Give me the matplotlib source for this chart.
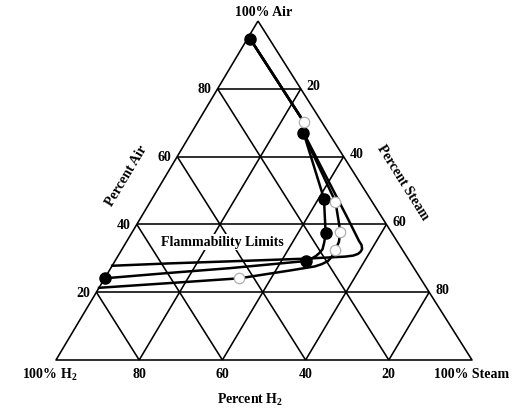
import matplotlib
matplotlib.use('Agg')
import matplotlib.pyplot as plt

plt.rcParams['font.family'] = ['Liberation Serif', 'DejaVu Serif']
plt.rcParams['font.weight'] = 'bold'
plt.rcParams['mathtext.fontset'] = 'custom'
plt.rcParams['mathtext.rm'] = 'Liberation Serif:bold'
plt.rcParams['mathtext.default'] = 'rm'

# ---------------- data (percent H2, percent Air; steam = 100 - H2 - Air) ----
tick_values = [20, 40, 60, 80]

outer_h2 = [4.6, 4.3, 6.0, 8.4, 9.1, 9.1, 9.6, 10.4, 11.3, 12.7, 14.8, 24.5, 43.2, 58.0, 72.2]
outer_air = [94.7, 70.1, 67.1, 41.6, 35.1, 33.9, 32.7, 31.9, 31.3, 30.8, 30.5, 29.9, 29.1, 28.5, 27.8]

filled_curve_h2 = [4.6, 4.3, 6.0, 11.1, 15.9, 17.6, 19.1, 20.4, 21.7, 23.4, 24.9, 34.1, 44.2, 59.4, 75.9]
filled_curve_air = [94.7, 70.1, 67.1, 47.6, 37.5, 34.8, 32.7, 31.6, 30.7, 29.8, 29.2, 28.2, 27.1, 25.7, 24.1]

open_curve_h2 = [4.6, 4.3, 6.4, 8.8, 12.2, 14.1, 16.2, 18.0, 19.6, 21.5, 23.6, 30.2, 43.5, 60.9, 78.7]
open_curve_air = [94.7, 70.1, 65.2, 46.7, 37.8, 34.8, 32.4, 30.5, 29.2, 28.3, 27.6, 26.4, 24.1, 22.7, 21.3]

filled_pts_h2 = [4.6, 6.0, 11.1, 15.9, 24.9, 75.9]
filled_pts_air = [94.7, 67.1, 47.6, 37.5, 29.2, 24.1]

open_pts_h2 = [4.3, 8.8, 12.2, 16.2, 43.5]
open_pts_air = [70.1, 46.7, 37.8, 32.4, 24.1]

# ---------------- layout (figure pixel frame) ------------------------------
V_AIR = (258.0, 22.0)
V_H2 = (56.0, 361.0)
V_STEAM = (472.0, 361.0)


def to_xy(h2, air):
    h = [v / 100.0 for v in h2]
    a = [v / 100.0 for v in air]
    s = [1 - hh - aa for hh, aa in zip(h, a)]
    xs = [aa * V_AIR[0] + hh * V_H2[0] + ss * V_STEAM[0] for hh, aa, ss in zip(h, a, s)]
    ys = [aa * V_AIR[1] + hh * V_H2[1] + ss * V_STEAM[1] for hh, aa, ss in zip(h, a, s)]
    return xs, ys


fig = plt.figure(figsize=(5.2, 4.1), dpi=100)
ax = fig.add_axes([0, 0, 1, 1])
ax.set_xlim(0, 520)
ax.set_ylim(410, 0)
ax.axis('off')

GL = dict(color='black', lw=1.15, zorder=1, solid_capstyle='butt')

# triangle border
bx, by = to_xy([0, 100, 0, 0], [100, 0, 0, 100])
ax.plot(bx, by, **GL)

# grid lines
for v in tick_values:
    x, y = to_xy([100 - v, 0], [v, v]); ax.plot(x, y, **GL)      # constant air
    x, y = to_xy([v, v], [100 - v, 0]); ax.plot(x, y, **GL)      # constant H2
    x, y = to_xy([0, 100 - v], [100 - v, 0]); ax.plot(x, y, **GL)  # constant steam

# curves
CL = dict(color='black', lw=1.8, zorder=3, solid_joinstyle='round')
x, y = to_xy(outer_h2, outer_air); ax.plot(x, y, **CL)
x, y = to_xy(filled_curve_h2, filled_curve_air); ax.plot(x, y, **CL)
x, y = to_xy(open_curve_h2, open_curve_air); ax.plot(x, y, **CL)

x, y = to_xy(filled_pts_h2, filled_pts_air)
ax.plot(x, y, 'o', ms=8, mfc='black', mec='black', zorder=5)
x, y = to_xy(open_pts_h2, open_pts_air)
ax.plot(x, y, 'o', ms=7.5, mfc='white', mec='#b0b0b0', mew=0.9, zorder=5)

# ---------------- text ---------------------------------------------------
FS = 10
ax.text(V_AIR[0] + 6, V_AIR[1] - 10, '100% Air', ha='center', va='center', fontsize=FS)

for v in tick_values:
    x, y = to_xy([100 - v], [v])          # left edge: percent air
    ax.text(x[0] - 6, y[0], str(v), ha='right', va='center', fontsize=FS)
    x, y = to_xy([0], [100 - v])          # right edge: percent steam
    ax.text(x[0] + 6, y[0] - 3, str(v), ha='left', va='center', fontsize=FS)
    x, y = to_xy([v], [0])                # bottom: percent H2
    ax.text(x[0], y[0] + 14, str(v), ha='center', va='center', fontsize=FS)

ax.text(V_H2[0] - 6, V_H2[1] + 14, '100% H$_2$', ha='center', va='center', fontsize=FS)
ax.text(V_STEAM[0], V_STEAM[1] + 14, '100% Steam', ha='center', va='center', fontsize=FS)
ax.text(250, 400, 'Percent H$_2$', ha='center', va='center', fontsize=FS)
ax.text(127, 176, 'Percent Air', ha='center', va='center', fontsize=FS,
        rotation=59, rotation_mode='anchor')
ax.text(402.5, 183, 'Percent Steam', ha='center', va='center', fontsize=FS,
        rotation=-58, rotation_mode='anchor')
ax.text(222.5, 243, 'Flammability Limits', ha='center', va='center', fontsize=FS,
        zorder=4, bbox=dict(facecolor='white', edgecolor='none', pad=1.0))

fig.savefig('out.png', dpi=100)
